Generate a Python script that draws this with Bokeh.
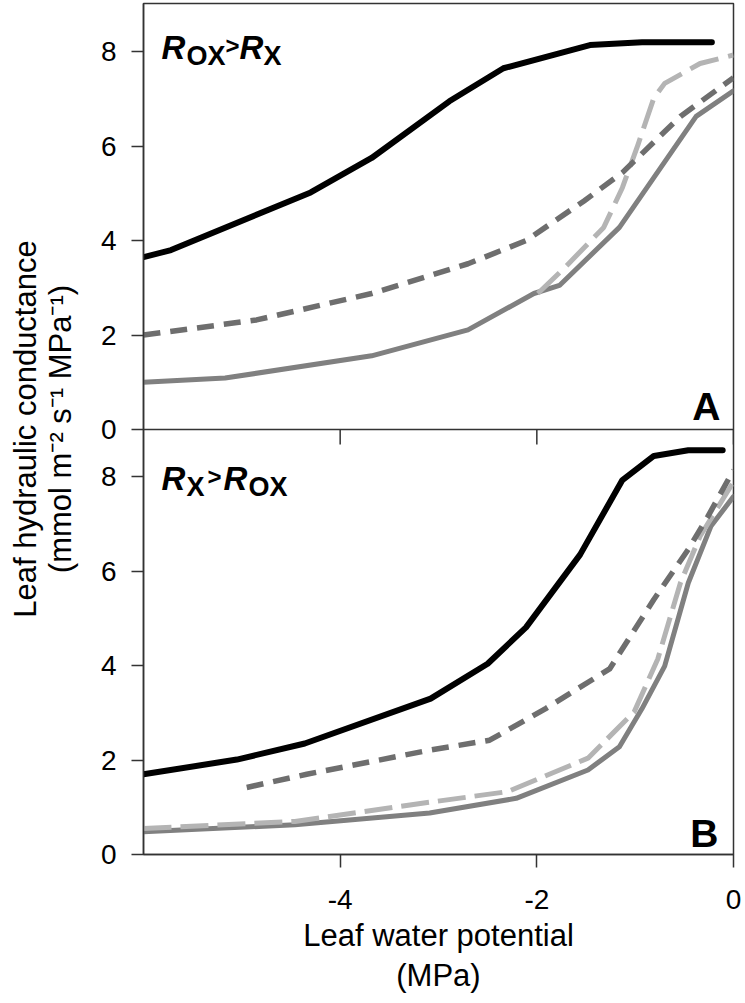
from bokeh.plotting import figure
from bokeh.models import Range1d, FixedTicker, Span, Label
from bokeh.embed import file_html
from bokeh.resources import INLINE

FONT = "Liberation Sans"

# ---------------- data ----------------
x_ticks = [-4, -2, 0]
x_tick_labels = ["-4", "-2", "0"]
y_ticks = [0, 2, 4, 6, 8]
y_tick_labels = ["0", "2", "4", "6", "8"]
x_start, x_end = -6, 0
panel_height = 9          # each panel spans 0..9 of conductance

# Panel A  (R_OX > R_X)
a_black_x = [-6.0, -5.72, -4.30, -3.68, -2.89, -2.34, -1.46, -0.93, -0.22]
a_black_y = [3.65, 3.80, 5.02, 5.75, 6.95, 7.65, 8.14, 8.20, 8.20]
a_gray_x = [-6.0, -5.17, -3.68, -2.70, -2.03, -1.77, -1.16, -0.38, 0.0]
a_gray_y = [1.00, 1.09, 1.56, 2.11, 2.88, 3.05, 4.28, 6.63, 7.17]
a_dark_dash_x = [-6.0, -4.85, -3.68, -2.70, -2.11, -1.52, -1.13, -0.54, 0.0]
a_dark_dash_y = [2.00, 2.32, 2.88, 3.51, 4.00, 4.84, 5.44, 6.63, 7.45]
a_light_dash_x = [-1.99, -1.71, -1.32, -1.13, -0.97, -0.81, -0.70, -0.34, 0.0]
a_light_dash_y = [2.88, 3.44, 4.28, 5.12, 6.04, 7.02, 7.33, 7.75, 7.93]

# Panel B  (R_X > R_OX)
b_black_x = [-6.0, -5.05, -4.36, -3.08, -2.50, -2.11, -1.56, -1.13, -0.81, -0.46, -0.11]
b_black_y = [1.70, 2.01, 2.35, 3.30, 4.04, 4.81, 6.35, 7.93, 8.44, 8.56, 8.56]
b_gray_x = [-6.0, -4.46, -3.09, -2.21, -1.48, -1.16, -0.93, -0.70, -0.46, -0.23, 0.0]
b_gray_y = [0.48, 0.63, 0.88, 1.19, 1.79, 2.28, 3.09, 3.99, 5.75, 6.95, 7.58]
b_dark_dash_x = [-4.95, -4.34, -3.09, -2.48, -1.91, -1.26, -0.81, -0.46, -0.26, 0.0]
b_dark_dash_y = [1.42, 1.70, 2.21, 2.42, 3.09, 3.93, 5.40, 6.46, 7.16, 8.14]
b_light_dash_x = [-6.0, -4.46, -3.29, -2.30, -1.48, -1.01, -0.77, -0.54, -0.34, 0.0]
b_light_dash_y = [0.55, 0.70, 1.05, 1.33, 2.04, 3.02, 4.14, 5.75, 6.74, 7.89]

# ---------------- styles ----------------
BLACK = "#000000"
GRAY = "#808080"
DARK = "#6e6e6e"
LIGHT = "#b4b4b4"
AXIS = "#333333"

FRAME_H = 851
PX_PER_UNIT = 425 / panel_height
total_top = FRAME_H / PX_PER_UNIT          # primary range end (bottom-panel units)

p = figure(width=743, height=1000,
           x_range=Range1d(x_start, x_end),
           y_range=Range1d(0, total_top),
           output_backend="svg", toolbar_location=None,
           min_border_left=143, min_border_right=10,
           min_border_top=3, min_border_bottom=146)
p.extra_y_ranges = {"top": Range1d(-panel_height, total_top - panel_height)}

p.xgrid.visible = False
p.ygrid.visible = False
p.outline_line_color = AXIS
p.outline_line_width = 1.5
p.background_fill_color = "white"
p.border_fill_color = "white"

# x axis
xa = p.xaxis[0]
xa.ticker = FixedTicker(ticks=x_ticks)
xa.major_label_overrides = dict(zip(x_ticks, x_tick_labels))
xa.major_tick_out = 13
xa.major_tick_in = 0
xa.minor_tick_out = 0
xa.minor_tick_in = 0
xa.axis_line_color = AXIS
xa.axis_line_width = 1.5
xa.major_tick_line_color = AXIS
xa.major_tick_line_width = 1.5
xa.major_label_text_font = FONT
xa.major_label_text_font_size = "28px"
xa.major_label_text_color = "black"
xa.major_label_standoff = 22
xa.axis_label = "Leaf water potential\n(MPa)"
xa.axis_label_text_font = FONT
xa.axis_label_text_font_size = "31px"
xa.axis_label_text_font_style = "normal"
xa.axis_label_text_color = "black"
xa.axis_label_text_line_height = 1.15
xa.axis_label_standoff = 6

# y axis: both panels on one axis
all_y_ticks = y_ticks + [t + panel_height for t in y_ticks]
overrides = {}
for t, lbl in zip(y_ticks, y_tick_labels):
    overrides[t] = lbl
    overrides[t + panel_height] = lbl
ya = p.yaxis[0]
ya.ticker = FixedTicker(ticks=all_y_ticks)
ya.major_label_overrides = overrides
ya.major_tick_out = 12
ya.major_tick_in = 0
ya.minor_tick_out = 0
ya.minor_tick_in = 0
ya.axis_line_color = AXIS
ya.axis_line_width = 1.5
ya.major_tick_line_color = AXIS
ya.major_tick_line_width = 1.5
ya.major_label_text_font = FONT
ya.major_label_text_font_size = "28px"
ya.major_label_text_color = "black"
ya.major_label_standoff = 15
ya.axis_label = "Leaf hydraulic conductance\n(mmol m\u207b\u00b2 s\u207b\u00b9 MPa\u207b\u00b9)"
ya.axis_label_text_font = FONT
ya.axis_label_text_font_size = "31px"
ya.axis_label_text_font_style = "normal"
ya.axis_label_text_color = "black"
ya.axis_label_text_line_height = 1.0
ya.axis_label_standoff = 20

# divider between panels (x axis of panel A) with its ticks pointing down
p.add_layout(Span(location=panel_height, dimension="width",
                  line_color=AXIS, line_width=1.5))
tick_len = 15 / PX_PER_UNIT
p.segment(x0=x_ticks, y0=[panel_height] * len(x_ticks),
          x1=x_ticks, y1=[panel_height - tick_len] * len(x_ticks),
          line_color=AXIS, line_width=1.5)

# ---------------- curves ----------------
def draw(xs, ys, color, width, dash="solid", rng="default"):
    p.line(xs, ys, line_color=color, line_width=width, line_dash=dash,
           line_join="round", line_cap="round" if dash == "solid" else "butt",
           y_range_name=rng)

# panel A (top)
draw(a_gray_x, a_gray_y, GRAY, 5, rng="top")
draw(a_light_dash_x, a_light_dash_y, LIGHT, 5, "30 10", rng="top")
draw(a_dark_dash_x, a_dark_dash_y, DARK, 5.5, "17 10", rng="top")
draw(a_black_x, a_black_y, BLACK, 6, rng="top")

# panel B (bottom)
draw(b_gray_x, b_gray_y, GRAY, 5)
draw(b_light_dash_x, b_light_dash_y, LIGHT, 5, "28 9")
draw(b_dark_dash_x, b_dark_dash_y, DARK, 5.5, "17 10")
draw(b_black_x, b_black_y, BLACK, 6)

# ---------------- panel titles ----------------
def piece(text, x_off, y, y_off, size, style, rng="default"):
    p.add_layout(Label(x=x_start, y=y, x_offset=x_off, y_offset=y_off,
                       y_range_name=rng, text=text, text_font=FONT,
                       text_font_size=size, text_font_style=style,
                       text_color="black", text_baseline="alphabetic",
                       text_align="left"))

top_end = total_top - panel_height
# R_OX > R_X
piece("R", 18, top_end, -44, "33px", "bold italic", "top")
piece("OX", 43, top_end, -52, "27px", "bold", "top")
piece(">", 82, top_end, -42, "24px", "bold", "top")
piece("R", 96, top_end, -44, "33px", "bold italic", "top")
piece("X", 120, top_end, -52, "27px", "bold", "top")
# R_X > R_OX
piece("R", 18, panel_height, -49, "33px", "bold italic")
piece("X", 43, panel_height, -57, "27px", "bold")
piece(">", 64, panel_height, -47, "24px", "bold")
piece("R", 80, panel_height, -49, "33px", "bold italic")
piece("OX", 105, panel_height, -57, "27px", "bold")

# panel letters
p.add_layout(Label(x=x_end, y=0, x_offset=-13, y_offset=23, y_range_name="top",
                   text="A", text_font=FONT, text_font_size="39px",
                   text_font_style="bold", text_align="right",
                   text_color="black", text_baseline="alphabetic"))
p.add_layout(Label(x=x_end, y=0, x_offset=-15, y_offset=21,
                   text="B", text_font=FONT, text_font_size="39px",
                   text_font_style="bold", text_align="right",
                   text_color="black", text_baseline="alphabetic"))

open("out.html", "w").write(file_html(p, INLINE))
